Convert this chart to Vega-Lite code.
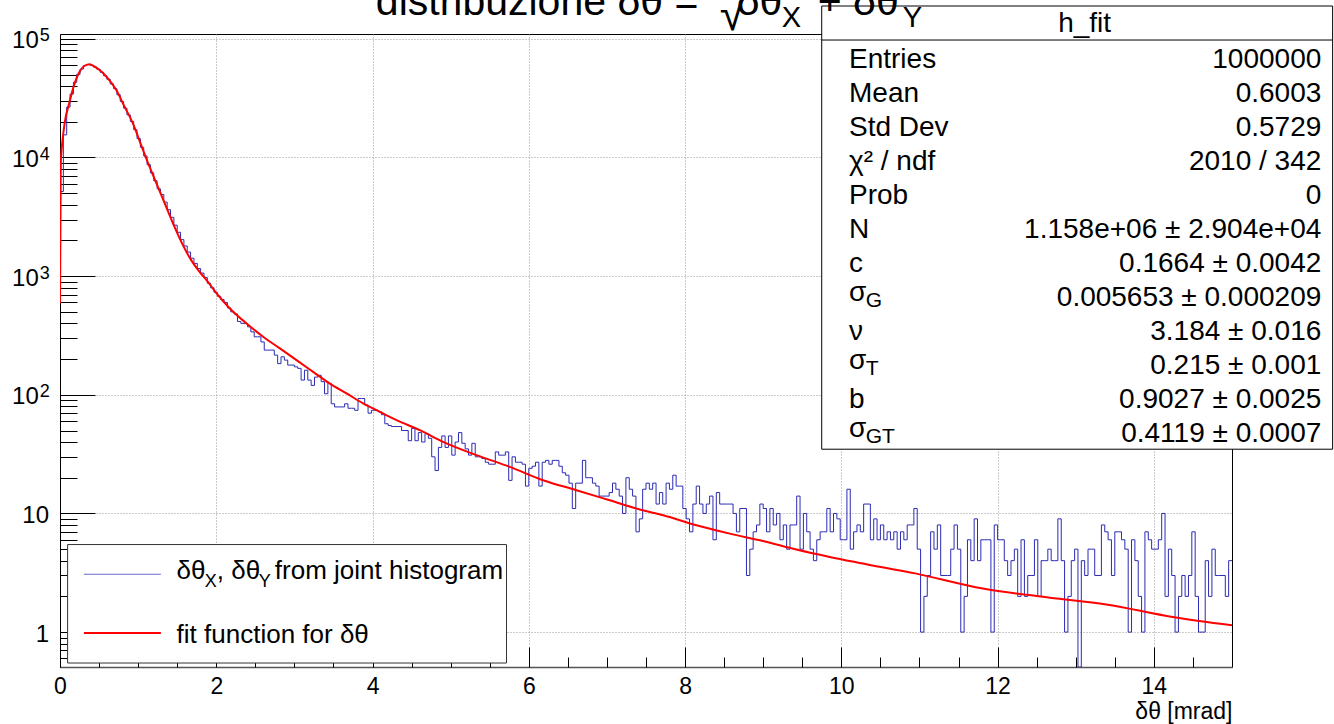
{
"$schema": "https://vega.github.io/schema/vega-lite/v6.json",
"width": 1172, "height": 633,
"autosize": {"type": "none"},
"padding": {"left": 60, "top": 34, "right": 102, "bottom": 57},
"background": "white",
"config": {"font": "Liberation Sans", "view": {"stroke": "#000", "strokeWidth": 1}, "axis": {"labelFont": "Liberation Sans", "titleFont": "Liberation Sans", "labelColor": "#000", "titleColor": "#000"}, "text": {"font": "Liberation Sans", "color": "#000"}},
"datasets": {
"hist": [
{"x":0,"n":5170},{"x":0.0429,"n":15500},{"x":0.0857,"n":26560},{"x":0.1286,"n":34240},{"x":0.1714,"n":43020},{"x":0.2143,"n":50220},{"x":0.2571,"n":55620},
{"x":0.3,"n":59470},{"x":0.3429,"n":60600},{"x":0.3857,"n":59760},{"x":0.4286,"n":57800},{"x":0.4714,"n":55390},{"x":0.5143,"n":52220},{"x":0.5571,"n":48900},
{"x":0.6,"n":45620},{"x":0.6429,"n":41660},{"x":0.6857,"n":38030},{"x":0.7286,"n":33780},{"x":0.7714,"n":29630},{"x":0.8143,"n":26010},{"x":0.8571,"n":22840},
{"x":0.9,"n":20110},{"x":0.9429,"n":17150},{"x":0.9857,"n":14430},{"x":1.0286,"n":12170},{"x":1.0714,"n":10280},{"x":1.1143,"n":8690},{"x":1.1571,"n":7410},
{"x":1.2,"n":6360},{"x":1.2429,"n":5440},{"x":1.2857,"n":4877},{"x":1.3286,"n":4208},{"x":1.3714,"n":3630},{"x":1.4143,"n":3132},{"x":1.4571,"n":2689},
{"x":1.5,"n":2341},{"x":1.5429,"n":2030},{"x":1.5857,"n":1796},{"x":1.6286,"n":1595},{"x":1.6714,"n":1417},{"x":1.7143,"n":1280},{"x":1.7571,"n":1158},
{"x":1.8,"n":1061},{"x":1.8429,"n":971},{"x":1.8857,"n":870},{"x":1.9286,"n":797},{"x":1.9714,"n":731},{"x":2.0143,"n":677},{"x":2.0571,"n":635},
{"x":2.1,"n":600},{"x":2.1429,"n":540},{"x":2.1857,"n":500},{"x":2.2286,"n":480},{"x":2.2714,"n":415},{"x":2.3143,"n":400},{"x":2.3571,"n":398},
{"x":2.4,"n":374},{"x":2.4429,"n":339},{"x":2.4857,"n":308},{"x":2.5286,"n":308},{"x":2.5714,"n":279},{"x":2.6143,"n":238},{"x":2.6571,"n":238},
{"x":2.7,"n":238},{"x":2.7429,"n":216},{"x":2.7857,"n":183},{"x":2.8286,"n":209},{"x":2.8714,"n":196},{"x":2.9143,"n":178},{"x":2.9571,"n":178},
{"x":3,"n":172},{"x":3.0429,"n":167},{"x":3.0857,"n":133},{"x":3.1286,"n":161},{"x":3.1714,"n":133},{"x":3.2143,"n":120},{"x":3.2571,"n":141},
{"x":3.3,"n":146},{"x":3.3429,"n":129},{"x":3.3857,"n":102},{"x":3.4286,"n":125},{"x":3.4714,"n":84},{"x":3.5143,"n":79},{"x":3.5571,"n":79},
{"x":3.6,"n":79},{"x":3.6429,"n":84},{"x":3.6857,"n":77},{"x":3.7286,"n":77},{"x":3.7714,"n":74},{"x":3.8143,"n":93},{"x":3.8571,"n":93},
{"x":3.9,"n":82},{"x":3.9429,"n":70},{"x":3.9857,"n":74},{"x":4.0286,"n":74},{"x":4.0714,"n":72},{"x":4.1143,"n":68},{"x":4.1571,"n":57},
{"x":4.2,"n":55},{"x":4.2429,"n":54},{"x":4.2857,"n":54},{"x":4.3286,"n":54},{"x":4.3714,"n":50},{"x":4.4143,"n":50},{"x":4.4571,"n":41},
{"x":4.5,"n":52},{"x":4.5429,"n":41},{"x":4.5857,"n":48},{"x":4.6286,"n":40},{"x":4.6714,"n":47},{"x":4.7143,"n":43},{"x":4.7571,"n":30},
{"x":4.8,"n":23},{"x":4.8429,"n":36},{"x":4.8857,"n":45},{"x":4.9286,"n":36},{"x":4.9714,"n":45},{"x":5.0143,"n":31},{"x":5.0571,"n":40},
{"x":5.1,"n":48},{"x":5.1429,"n":39},{"x":5.1857,"n":35},{"x":5.2286,"n":31},{"x":5.2714,"n":39},{"x":5.3143,"n":30},{"x":5.3571,"n":30},
{"x":5.4,"n":29},{"x":5.4429,"n":27},{"x":5.4857,"n":26},{"x":5.5286,"n":26},{"x":5.5714,"n":33},{"x":5.6143,"n":31},{"x":5.6571,"n":31},
{"x":5.7,"n":33},{"x":5.7429,"n":19},{"x":5.7857,"n":30},{"x":5.8286,"n":27},{"x":5.8714,"n":27},{"x":5.9143,"n":26},{"x":5.9571,"n":17},
{"x":6,"n":24},{"x":6.0429,"n":25},{"x":6.0857,"n":27},{"x":6.1286,"n":17},{"x":6.1714,"n":27},{"x":6.2143,"n":28},{"x":6.2571,"n":26},
{"x":6.3,"n":28},{"x":6.3429,"n":28},{"x":6.3857,"n":25},{"x":6.4286,"n":22},{"x":6.4714,"n":21},{"x":6.5143,"n":18},{"x":6.5571,"n":11},
{"x":6.6,"n":18},{"x":6.6429,"n":18},{"x":6.6857,"n":28},{"x":6.7286,"n":20},{"x":6.7714,"n":20},{"x":6.8143,"n":18},{"x":6.8571,"n":17},
{"x":6.9,"n":14},{"x":6.9429,"n":14},{"x":6.9857,"n":14},{"x":7.0286,"n":15},{"x":7.0714,"n":18},{"x":7.1143,"n":16},{"x":7.1571,"n":14},
{"x":7.2,"n":10},{"x":7.2429,"n":20},{"x":7.2857,"n":16},{"x":7.3286,"n":14},{"x":7.3714,"n":7},{"x":7.4143,"n":9},{"x":7.4571,"n":16},
{"x":7.5,"n":18},{"x":7.5429,"n":16},{"x":7.5857,"n":18},{"x":7.6286,"n":12},{"x":7.6714,"n":15},{"x":7.7143,"n":12},{"x":7.7571,"n":18},
{"x":7.8,"n":16},{"x":7.8429,"n":21},{"x":7.8857,"n":17},{"x":7.9286,"n":17},{"x":7.9714,"n":11},{"x":8.0143,"n":9},{"x":8.0571,"n":7},
{"x":8.1,"n":12},{"x":8.1429,"n":17},{"x":8.1857,"n":12},{"x":8.2286,"n":10},{"x":8.2714,"n":12},{"x":8.3143,"n":14},{"x":8.3571,"n":6},
{"x":8.4,"n":15},{"x":8.4429,"n":12},{"x":8.4857,"n":12},{"x":8.5286,"n":12},{"x":8.5714,"n":12},{"x":8.6143,"n":10},{"x":8.6571,"n":7},
{"x":8.7,"n":11},{"x":8.7429,"n":11},{"x":8.7857,"n":3},{"x":8.8286,"n":5},{"x":8.8714,"n":7},{"x":8.9143,"n":8},{"x":8.9571,"n":12},
{"x":9,"n":11},{"x":9.0429,"n":7},{"x":9.0857,"n":11},{"x":9.1286,"n":8},{"x":9.1714,"n":10},{"x":9.2143,"n":6},{"x":9.2571,"n":8},
{"x":9.3,"n":5},{"x":9.3429,"n":8},{"x":9.3857,"n":8},{"x":9.4286,"n":14},{"x":9.4714,"n":5},{"x":9.5143,"n":10},{"x":9.5571,"n":7},
{"x":9.6,"n":5},{"x":9.6429,"n":4},{"x":9.6857,"n":6},{"x":9.7286,"n":7},{"x":9.7714,"n":7},{"x":9.8143,"n":11},{"x":9.8571,"n":7},
{"x":9.9,"n":10},{"x":9.9429,"n":9},{"x":9.9857,"n":6},{"x":10.0286,"n":6},{"x":10.0714,"n":16},{"x":10.1143,"n":5},{"x":10.1571,"n":7},
{"x":10.2,"n":8},{"x":10.2429,"n":7},{"x":10.2857,"n":12},{"x":10.3286,"n":12},{"x":10.3714,"n":6},{"x":10.4143,"n":9},{"x":10.4571,"n":6},
{"x":10.5,"n":8},{"x":10.5429,"n":6},{"x":10.5857,"n":7},{"x":10.6286,"n":6},{"x":10.6714,"n":7},{"x":10.7143,"n":5},{"x":10.7571,"n":7},
{"x":10.8,"n":6},{"x":10.8429,"n":8},{"x":10.8857,"n":8},{"x":10.9286,"n":11},{"x":10.9714,"n":5},{"x":11.0143,"n":1},{"x":11.0571,"n":2},
{"x":11.1,"n":3},{"x":11.1429,"n":7},{"x":11.1857,"n":5},{"x":11.2286,"n":8},{"x":11.2714,"n":3},{"x":11.3143,"n":3},{"x":11.3571,"n":3},
{"x":11.4,"n":5},{"x":11.4429,"n":8},{"x":11.4857,"n":5},{"x":11.5286,"n":1},{"x":11.5714,"n":2},{"x":11.6143,"n":6},{"x":11.6571,"n":4},
{"x":11.7,"n":9},{"x":11.7429,"n":4},{"x":11.7857,"n":6},{"x":11.8286,"n":6},{"x":11.8714,"n":6},{"x":11.9143,"n":1},{"x":11.9571,"n":8},
{"x":12,"n":6},{"x":12.0429,"n":6},{"x":12.0857,"n":4},{"x":12.1286,"n":3},{"x":12.1714,"n":4},{"x":12.2143,"n":5},{"x":12.2571,"n":2},
{"x":12.3,"n":6},{"x":12.3429,"n":2},{"x":12.3857,"n":3},{"x":12.4286,"n":3},{"x":12.4714,"n":6},{"x":12.5143,"n":2},{"x":12.5571,"n":4},
{"x":12.6,"n":4},{"x":12.6429,"n":5},{"x":12.6857,"n":4},{"x":12.7286,"n":4},{"x":12.7714,"n":9},{"x":12.8143,"n":4},{"x":12.8571,"n":1},
{"x":12.9,"n":2},{"x":12.9429,"n":4},{"x":12.9857,"n":5},{"x":13.0286,"n":0},{"x":13.0714,"n":4},{"x":13.1143,"n":3},{"x":13.1571,"n":5},
{"x":13.2,"n":5},{"x":13.2429,"n":3},{"x":13.2857,"n":3},{"x":13.3286,"n":8},{"x":13.3714,"n":7},{"x":13.4143,"n":6},{"x":13.4571,"n":3},
{"x":13.5,"n":7},{"x":13.5429,"n":7},{"x":13.5857,"n":6},{"x":13.6286,"n":5},{"x":13.6714,"n":1},{"x":13.7143,"n":6},{"x":13.7571,"n":4},
{"x":13.8,"n":2},{"x":13.8429,"n":1},{"x":13.8857,"n":7},{"x":13.9286,"n":6},{"x":13.9714,"n":5},{"x":14.0143,"n":5},{"x":14.0571,"n":6},
{"x":14.1,"n":10},{"x":14.1429,"n":2},{"x":14.1857,"n":5},{"x":14.2286,"n":3},{"x":14.2714,"n":1},{"x":14.3143,"n":2},{"x":14.3571,"n":3},
{"x":14.4,"n":2},{"x":14.4429,"n":3},{"x":14.4857,"n":7},{"x":14.5286,"n":2},{"x":14.5714,"n":1},{"x":14.6143,"n":1},{"x":14.6571,"n":4},
{"x":14.7,"n":2},{"x":14.7429,"n":5},{"x":14.7857,"n":3},{"x":14.8286,"n":3},{"x":14.8714,"n":3},{"x":14.9143,"n":2},{"x":14.9571,"n":4},
{"x":15,"n":4}
],
"fit": [
{"x":0,"v":590},{"x":0.01,"v":9000},{"x":0.02,"v":11500},{"x":0.035,"v":14500},{"x":0.059,"v":19400},{"x":0.123,"v":29500},{"x":0.187,"v":42100},{"x":0.25,"v":52800},{"x":0.315,"v":59300},{"x":0.379,"v":61000},{"x":0.443,"v":58200},{"x":0.507,"v":54600},{"x":0.613,"v":46400},{"x":0.72,"v":37000},{"x":0.826,"v":26800},{"x":0.933,"v":19400},{"x":1.039,"v":12700},{"x":1.146,"v":8360},{"x":1.253,"v":5660},{"x":1.359,"v":3840},{"x":1.466,"v":2600},{"x":1.573,"v":1825},{"x":1.679,"v":1364},{"x":1.786,"v":1087},{"x":1.893,"v":895},{"x":2.004,"v":715},{"x":2.174,"v":534},{"x":2.388,"v":399},{"x":2.6,"v":308},{"x":2.814,"v":246},{"x":3.027,"v":196},{"x":3.24,"v":156},{"x":3.454,"v":124},{"x":3.667,"v":102.6},{"x":3.88,"v":84.5},{"x":4.094,"v":71.8},{"x":4.307,"v":61.1},{"x":4.605,"v":50.3},{"x":4.903,"v":40.1},{"x":5.331,"v":31.0},{"x":5.757,"v":24.7},{"x":6.183,"v":19.05},{"x":6.61,"v":15.7},{"x":7.036,"v":12.9},{"x":7.42,"v":10.8},{"x":7.72,"v":9.66},{"x":8.146,"v":7.95},{"x":8.572,"v":6.76},{"x":8.998,"v":5.86},{"x":9.425,"v":4.96},{"x":9.851,"v":4.30},{"x":10.235,"v":3.83},{"x":10.96,"v":3.11},{"x":11.81,"v":2.33},{"x":12.67,"v":1.95},{"x":13.39,"v":1.71},{"x":14.24,"v":1.34},{"x":15.0,"v":1.14}
],
"stats": [
{"row":0,"label":"Entries","value":"1000000"},
{"row":1,"label":"Mean","value":"0.6003"},
{"row":2,"label":"Std Dev","value":"0.5729"},
{"row":3,"label":"χ² / ndf","value":"2010 / 342"},
{"row":4,"label":"Prob","value":"0"},
{"row":5,"label":"N","value":"1.158e+06 ± 2.904e+04"},
{"row":6,"label":"c","value":"0.1664 ± 0.0042"},
{"row":7,"label":"σ","sub":"G","value":"0.005653 ± 0.000209"},
{"row":8,"label":"ν","value":"3.184 ± 0.016"},
{"row":9,"label":"σ","sub":"T","value":"0.215 ± 0.001"},
{"row":10,"label":"b","value":"0.9027 ± 0.0025"},
{"row":11,"label":"σ","sub":"GT","value":"0.4119 ± 0.0007"}
]
},
"layer": [
{
"data": {"name": "hist"},
"mark": {"type": "line", "interpolate": "step-after", "stroke": "#2b2bb5", "strokeWidth": 1, "clip": true},
"encoding": {
"x": {"field": "x", "type": "quantitative", "scale": {"domain": [0, 15], "nice": false, "zero": false},
"axis": {"orient": "bottom", "values": [0, 2, 4, 6, 8, 10, 12, 14], "format": "d", "labelFontSize": 23, "labelPadding": 8, "labelFlush": false, "labelOverlap": false, "ticks": false, "domainColor": "#555", "domainWidth": 1.5, "grid": true, "gridColor": "#999", "gridDash": [1, 2], "gridWidth": 1, "title": "δθ [mrad]", "titleFontSize": 23, "titleFontWeight": "normal", "titleAnchor": "end", "titleAlign": "right", "titleBaseline": "alphabetic", "titlePadding": 20}},
"y": {"field": "n", "type": "quantitative", "scale": {"type": "log", "domain": [0.508, 109800], "nice": false, "clamp": true},
"axis": {"orient": "left", "values": [1, 10, 100, 1000, 10000, 100000], "labelExpr": "datum.value == 1 ? '1' : (datum.value == 10 ? '10' : '')", "labelFontSize": 24, "labelPadding": 11.5, "labelBaseline": "middle", "labelOffset": 2, "labelFlush": false, "labelOverlap": false, "ticks": false, "domainColor": "#000", "domainWidth": 1, "grid": true, "gridColor": "#999", "gridDash": [1, 2], "gridWidth": 1, "title": null}}
}
},
{
"data": {"name": "fit"},
"mark": {"type": "line", "interpolate": "monotone", "stroke": "#ff0000", "strokeWidth": 2, "clip": true},
"encoding": {
"x": {"field": "x", "type": "quantitative", "scale": {"domain": [0, 15], "nice": false, "zero": false},
"axis": {"orient": "bottom", "values": [0.5, 1, 1.5, 2.5, 3, 3.5, 4.5, 5, 5.5, 6.5, 7, 7.5, 8.5, 9, 9.5, 10.5, 11, 11.5, 12.5, 13, 13.5, 14.5], "labels": false, "domain": false, "grid": false, "ticks": true, "tickSize": -10, "tickColor": "#000", "tickWidth": 1, "title": null}},
"y": {"field": "v", "type": "quantitative", "scale": {"type": "log", "domain": [0.508, 109800], "nice": false},
"axis": {"orient": "left", "values": [0.6, 0.7, 0.8, 0.9, 2, 3, 4, 5, 6, 7, 8, 9, 20, 30, 40, 50, 60, 70, 80, 90, 200, 300, 400, 500, 600, 700, 800, 900, 2000, 3000, 4000, 5000, 6000, 7000, 8000, 9000, 20000, 30000, 40000, 50000, 60000, 70000, 80000, 90000], "labels": false, "domain": false, "grid": false, "ticks": true, "tickSize": -17, "tickColor": "#000", "tickWidth": 1, "title": null}}
}
},
{
"data": {"values": [{}]},
"mark": {"type": "rect", "fill": "#ffffff", "stroke": "#333", "strokeWidth": 1},
"encoding": {
"x": {"datum": 0.0972, "type": "quantitative", "scale": {"domain": [0, 15], "nice": false, "zero": false},
"axis": {"orient": "bottom", "values": [0, 2, 4, 6, 8, 10, 12, 14], "labels": false, "domain": false, "grid": false, "ticks": true, "tickSize": -20, "tickColor": "#000", "tickWidth": 1, "title": null}},
"x2": {"datum": 5.7146},
"y": {"datum": 5.468, "type": "quantitative", "scale": {"type": "log", "domain": [0.508, 109800], "nice": false},
"axis": {"orient": "left", "values": [100, 1000, 10000, 100000], "labelExpr": "'10'", "labelFontSize": 24, "labelPadding": 21.7, "labelBaseline": "middle", "labelOffset": 2, "labelFlush": false, "labelOverlap": false, "ticks": false, "domain": false, "grid": false, "title": null}},
"y2": {"datum": 0.5488}
}
},
{
"data": {"values": [{}]},
"mark": {"type": "rule", "stroke": "#6a6ac8", "strokeWidth": 1},
"encoding": {
"x": {"datum": 0.3059, "type": "quantitative", "scale": {"domain": [0, 15], "nice": false, "zero": false}, "axis": null},
"x2": {"datum": 1.2911},
"y": {"datum": 3.0725, "type": "quantitative", "scale": {"type": "log", "domain": [0.508, 109800], "nice": false},
"axis": {"orient": "left", "values": [100, 1000, 10000, 100000], "labelExpr": "'' + round(log(datum.value) / LN10)", "labelFontSize": 18, "labelAlign": "left", "labelPadding": 20.7, "labelBaseline": "middle", "labelOffset": -3, "labelFlush": false, "labelOverlap": false, "ticks": false, "domain": false, "grid": false, "title": null}}
}
},
{
"data": {"values": [{}]},
"mark": {"type": "rule", "stroke": "#ff0000", "strokeWidth": 2},
"encoding": {
"x": {"datum": 0.3059, "type": "quantitative", "scale": {"domain": [0, 15], "nice": false, "zero": false}, "axis": null},
"x2": {"datum": 1.2911},
"y": {"datum": 0.9827, "type": "quantitative", "scale": {"type": "log", "domain": [0.508, 109800], "nice": false},
"axis": {"orient": "left", "values": [1, 10, 100, 1000, 10000, 100000], "labels": false, "domain": false, "grid": false, "ticks": true, "tickSize": -35, "tickColor": "#000", "tickWidth": 1, "title": null}}
}
},
{
"data": {"values": [{}]},
"layer": [
{"mark": {"type": "rect", "fill": "#ffffff", "stroke": "#000", "strokeWidth": 1},
"encoding": {"x": {"datum": 9.749, "type": "quantitative", "scale": {"domain": [0, 15], "nice": false, "zero": false}, "axis": null}, "x2": {"datum": 16.288}, "y": {"datum": 189040, "type": "quantitative", "scale": {"type": "log", "domain": [0.508, 109800], "nice": false}, "axis": null}, "y2": {"datum": 34.78}}},
{"mark": {"type": "rule", "stroke": "#000", "strokeWidth": 1},
"encoding": {"x": {"datum": 9.749, "type": "quantitative", "scale": {"domain": [0, 15], "nice": false, "zero": false}, "axis": null}, "x2": {"datum": 16.288}, "y": {"datum": 97700, "type": "quantitative", "scale": {"type": "log", "domain": [0.508, 109800], "nice": false}, "axis": null}}},
{"mark": {"type": "text", "text": "h_fit", "align": "center", "baseline": "alphabetic", "fontSize": 28},
"encoding": {"x": {"datum": 13.114, "type": "quantitative", "scale": {"domain": [0, 15], "nice": false, "zero": false}, "axis": null}, "y": {"datum": 114800, "type": "quantitative", "scale": {"type": "log", "domain": [0.508, 109800], "nice": false}, "axis": null}}},
{"mark": {"type": "text", "text": "δθ", "align": "left", "baseline": "alphabetic", "fontSize": 26},
"encoding": {"x": {"datum": 1.4921, "type": "quantitative", "scale": {"domain": [0, 15], "nice": false, "zero": false}, "axis": null}, "y": {"datum": 2.826, "type": "quantitative", "scale": {"type": "log", "domain": [0.508, 109800], "nice": false}, "axis": null}}},
{"mark": {"type": "text", "text": "X", "align": "left", "baseline": "alphabetic", "fontSize": 18},
"encoding": {"x": {"datum": 1.8541, "type": "quantitative", "scale": {"domain": [0, 15], "nice": false, "zero": false}, "axis": null}, "y": {"datum": 2.4, "type": "quantitative", "scale": {"type": "log", "domain": [0.508, 109800], "nice": false}, "axis": null}}},
{"mark": {"type": "text", "text": ", δθ", "align": "left", "baseline": "alphabetic", "fontSize": 26},
"encoding": {"x": {"datum": 2.0077, "type": "quantitative", "scale": {"domain": [0, 15], "nice": false, "zero": false}, "axis": null}, "y": {"datum": 2.826, "type": "quantitative", "scale": {"type": "log", "domain": [0.508, 109800], "nice": false}, "axis": null}}},
{"mark": {"type": "text", "text": "Y", "align": "left", "baseline": "alphabetic", "fontSize": 18},
"encoding": {"x": {"datum": 2.5451, "type": "quantitative", "scale": {"domain": [0, 15], "nice": false, "zero": false}, "axis": null}, "y": {"datum": 2.4, "type": "quantitative", "scale": {"type": "log", "domain": [0.508, 109800], "nice": false}, "axis": null}}},
{"mark": {"type": "text", "text": "from joint histogram", "align": "left", "baseline": "alphabetic", "fontSize": 26},
"encoding": {"x": {"datum": 2.7498, "type": "quantitative", "scale": {"domain": [0, 15], "nice": false, "zero": false}, "axis": null}, "y": {"datum": 2.826, "type": "quantitative", "scale": {"type": "log", "domain": [0.508, 109800], "nice": false}, "axis": null}}},
{"mark": {"type": "text", "text": "fit function for δθ", "align": "left", "baseline": "alphabetic", "fontSize": 26},
"encoding": {"x": {"datum": 1.4921, "type": "quantitative", "scale": {"domain": [0, 15], "nice": false, "zero": false}, "axis": null}, "y": {"datum": 0.8094, "type": "quantitative", "scale": {"type": "log", "domain": [0.508, 109800], "nice": false}, "axis": null}}},
{"mark": {"type": "text", "text": "distribuzione δθ =", "align": "left", "baseline": "alphabetic", "fontSize": 41},
"encoding": {"x": {"datum": 4.0422, "type": "quantitative", "scale": {"domain": [0, 15], "nice": false, "zero": false}, "axis": null}, "y": {"datum": 158740, "type": "quantitative", "scale": {"type": "log", "domain": [0.508, 109800], "nice": false}, "axis": null}}},
{"mark": {"type": "text", "text": "√", "align": "left", "baseline": "alphabetic", "fontSize": 46},
"encoding": {"x": {"datum": 8.445, "type": "quantitative", "scale": {"domain": [0, 15], "nice": false, "zero": false}, "axis": null}, "y": {"datum": 118660, "type": "quantitative", "scale": {"type": "log", "domain": [0.508, 109800], "nice": false}, "axis": null}}},
{"mark": {"type": "text", "text": "δθ", "align": "left", "baseline": "alphabetic", "fontSize": 41},
"encoding": {"x": {"datum": 8.662, "type": "quantitative", "scale": {"domain": [0, 15], "nice": false, "zero": false}, "axis": null}, "y": {"datum": 158740, "type": "quantitative", "scale": {"type": "log", "domain": [0.508, 109800], "nice": false}, "axis": null}}},
{"mark": {"type": "text", "text": "X", "align": "left", "baseline": "alphabetic", "fontSize": 29},
"encoding": {"x": {"datum": 9.238, "type": "quantitative", "scale": {"domain": [0, 15], "nice": false, "zero": false}, "axis": null}, "y": {"datum": 126500, "type": "quantitative", "scale": {"type": "log", "domain": [0.508, 109800], "nice": false}, "axis": null}}},
{"mark": {"type": "text", "text": "+ δθ", "align": "left", "baseline": "alphabetic", "fontSize": 41},
"encoding": {"x": {"datum": 9.698, "type": "quantitative", "scale": {"domain": [0, 15], "nice": false, "zero": false}, "axis": null}, "y": {"datum": 158740, "type": "quantitative", "scale": {"type": "log", "domain": [0.508, 109800], "nice": false}, "axis": null}}},
{"mark": {"type": "text", "text": "Y", "align": "left", "baseline": "alphabetic", "fontSize": 29},
"encoding": {"x": {"datum": 10.786, "type": "quantitative", "scale": {"domain": [0, 15], "nice": false, "zero": false}, "axis": null}, "y": {"datum": 125800, "type": "quantitative", "scale": {"type": "log", "domain": [0.508, 109800], "nice": false}, "axis": null}}}
]
},
{
"data": {"name": "stats"},
"layer": [
{"transform": [{"filter": "!datum.sub"}],
"mark": {"type": "text", "align": "left", "baseline": "alphabetic", "fontSize": 28},
"encoding": {"x": {"datum": 10.098, "type": "quantitative", "scale": {"domain": [0, 15], "nice": false, "zero": false}, "axis": null}, "y": {"field": "row", "type": "quantitative", "scale": {"domain": [-1.0088, 17.609], "reverse": true, "nice": false, "zero": false}, "axis": null}, "text": {"field": "label"}}},
{"transform": [{"filter": "datum.sub"}],
"mark": {"type": "text", "align": "left", "baseline": "alphabetic", "fontSize": 28, "dy": -5},
"encoding": {"x": {"datum": 10.098, "type": "quantitative", "scale": {"domain": [0, 15], "nice": false, "zero": false}, "axis": null}, "y": {"field": "row", "type": "quantitative", "scale": {"domain": [-1.0088, 17.609], "reverse": true, "nice": false, "zero": false}, "axis": null}, "text": {"field": "label"}}},
{"transform": [{"filter": "datum.sub"}],
"mark": {"type": "text", "align": "left", "baseline": "alphabetic", "fontSize": 21, "dy": 1},
"encoding": {"x": {"datum": 10.312, "type": "quantitative", "scale": {"domain": [0, 15], "nice": false, "zero": false}, "axis": null}, "y": {"field": "row", "type": "quantitative", "scale": {"domain": [-1.0088, 17.609], "reverse": true, "nice": false, "zero": false}, "axis": null}, "text": {"field": "sub"}}},
{"mark": {"type": "text", "align": "right", "baseline": "alphabetic", "fontSize": 28},
"encoding": {"x": {"datum": 16.143, "type": "quantitative", "scale": {"domain": [0, 15], "nice": false, "zero": false}, "axis": null}, "y": {"field": "row", "type": "quantitative", "scale": {"domain": [-1.0088, 17.609], "reverse": true, "nice": false, "zero": false}, "axis": null}, "text": {"field": "value"}}}
]
}
],
"resolve": {"scale": {"x": "independent", "y": "independent"}}
}
